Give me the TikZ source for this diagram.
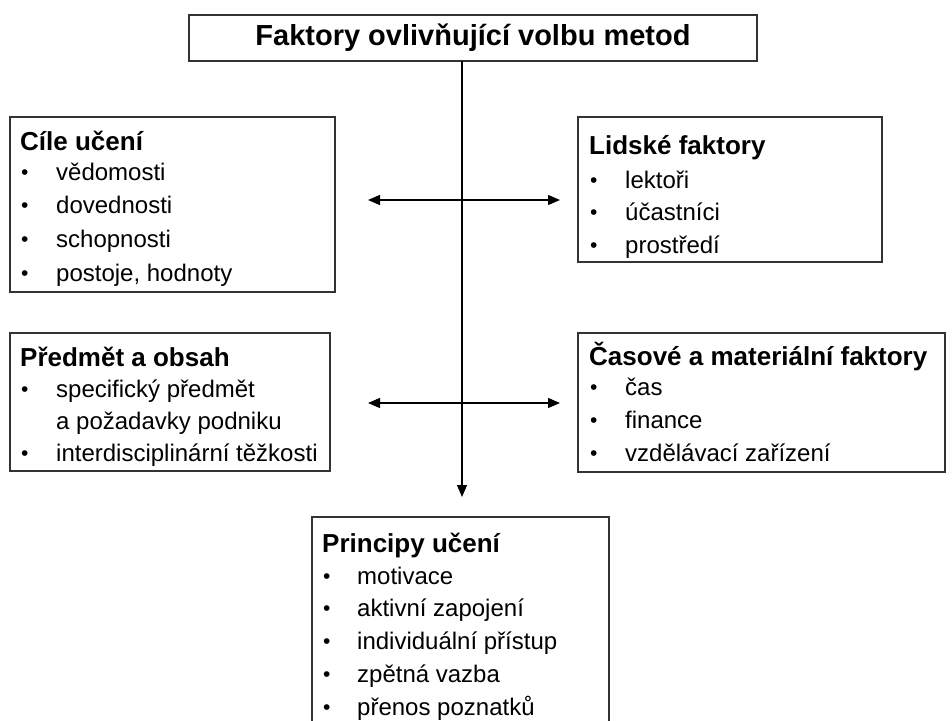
\documentclass[tikz,border=0pt]{standalone}
\usepackage{fontspec}
\setmainfont{Liberation Sans}
\usetikzlibrary{arrows.meta}

\begin{document}
\begin{tikzpicture}[x=1pt,y=-1pt,
  box/.style={draw=black!80, line width=1.4pt, inner sep=0pt, outer sep=0pt, anchor=north west},
  titletext/.style={inner sep=0pt, font=\fontsize{29}{33}\selectfont\bfseries},
  head/.style={anchor=base west, inner sep=0pt, font=\fontsize{26}{30}\selectfont\bfseries},
  item/.style={anchor=base west, inner sep=0pt, font=\fontsize{24}{28}\selectfont},
  dot/.style={anchor=base west, inner sep=0pt, font=\fontsize{21}{25}\selectfont},
  link/.style={line width=1.2pt, draw=black},
  tip/.style={-{Triangle[length=12pt,width=10pt]}},
  tips/.style={{Triangle[length=12pt,width=10pt]}-{Triangle[length=12pt,width=10pt]}}
]
\clip (0,0) rectangle (952,720);
\useasboundingbox (0,0) rectangle (952,720);
\fill[white] (0,0) rectangle (952,720);

% title
\node[box, minimum width=568pt, minimum height=46pt] (title) at (189,15) {};
\node[titletext] (titlelabel) at (473,38) {Faktory ovlivňující volbu metod};

% learning goals
\node[box, minimum width=325pt, minimum height=175pt] (cile) at (10,117) {};
\node[head] (cilehead) at (20,150) {Cíle učení};
\foreach \t [count=\i] in {vědomosti, dovednosti, schopnosti, {postoje, hodnoty}} {
  \node[dot] (cileb\i) at (21,{179+(\i-1)*33.7}) {•};
  \node[item] (cilet\i) at (56,{180+(\i-1)*33.7}) {\t};
}

% human factors
\node[box, minimum width=304pt, minimum height=145pt] (lid) at (578,117) {};
\node[head] (lidhead) at (589,154) {Lidské faktory};
\foreach \t [count=\i] in {lektoři, účastníci, prostředí} {
  \node[dot] (lidb\i) at (590,{187+(\i-1)*32.5}) {•};
  \node[item] (lidt\i) at (625,{188+(\i-1)*32.5}) {\t};
}

% subject and content
\node[box, minimum width=320pt, minimum height=138pt] (pred) at (10,333) {};
\node[head] (predhead) at (20,366) {Předmět a obsah};
\node[dot] (predb1) at (21,396) {•};
\node[item] (predt1) at (56,397) {specifický předmět};
\node[item] (predt2) at (56,429) {a požadavky podniku};
\node[dot] (predb3) at (21,460) {•};
\node[item] (predt3) at (56,461) {interdisciplinární těžkosti};

% time and material factors
\node[box, minimum width=367pt, minimum height=139pt] (cas) at (578,333) {};
\node[head] (cashead) at (589,365) {Časové a materiální faktory};
\foreach \t [count=\i] in {čas, finance, {vzdělávací zařízení}} {
  \node[dot] (casb\i) at (590,{394+(\i-1)*33}) {•};
  \node[item] (cast\i) at (625,{395+(\i-1)*33}) {\t};
}

% learning principles
\node[box, minimum width=297pt, minimum height=215pt] (prin) at (312,517) {};
\node[head] (prinhead) at (322,552) {Principy učení};
\foreach \t [count=\i] in {motivace, {aktivní zapojení}, {individuální přístup}, {zpětná vazba}, {přenos poznatků}} {
  \node[dot] (prinb\i) at (323,{583+(\i-1)*32.8}) {•};
  \node[item] (print\i) at (357,{584+(\i-1)*32.8}) {\t};
}

% connectors
\coordinate (trunk) at (462,61);
\coordinate (trunkend) at (462,497);
\coordinate (upl) at (368,200);
\coordinate (upr) at (560,200);
\coordinate (lowl) at (368,403);
\coordinate (lowr) at (560,403);
\draw[link, tip] (trunk) -- (trunkend);
\draw[link, tips] (upl) -- (upr);
\draw[link, tips] (lowl) -- (lowr);
\end{tikzpicture}
\end{document}
